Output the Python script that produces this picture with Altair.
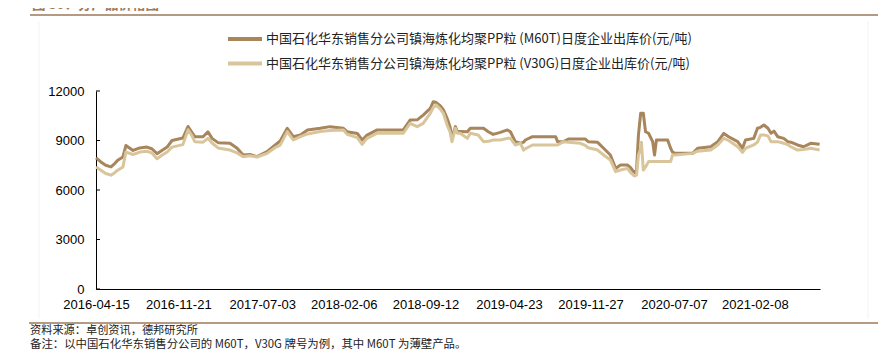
import altair as alt
import pandas as pd

# ---------------- data ----------------
dates = [
    "2016-04-15", "2016-04-28", "2016-05-11", "2016-05-25", "2016-06-04", "2016-06-12",
    "2016-06-26", "2016-07-04", "2016-07-23", "2016-08-10", "2016-08-29", "2016-09-11",
    "2016-09-25", "2016-10-08", "2016-10-22", "2016-11-04", "2016-12-03", "2016-12-17",
    "2016-12-27", "2017-01-04", "2017-01-26", "2017-02-08", "2017-02-19", "2017-03-07",
    "2017-04-08", "2017-04-27", "2017-05-13", "2017-05-31", "2017-06-19", "2017-07-16",
    "2017-08-06", "2017-08-20", "2017-09-08", "2017-09-24", "2017-10-13", "2017-11-01",
    "2017-12-05", "2017-12-31", "2018-02-05", "2018-02-15", "2018-03-14", "2018-03-27",
    "2018-04-09", "2018-05-06", "2018-07-15", "2018-08-02", "2018-08-21", "2018-09-06",
    "2018-09-25", "2018-10-03", "2018-10-11", "2018-10-22", "2018-10-30", "2018-11-09",
    "2018-11-17", "2018-11-22", "2018-12-01", "2018-12-06", "2018-12-14", "2019-01-02",
    "2019-01-10", "2019-01-31", "2019-02-14", "2019-02-27", "2019-03-12", "2019-03-31",
    "2019-04-19", "2019-04-27", "2019-05-10", "2019-05-24", "2019-06-01", "2019-06-06",
    "2019-06-25", "2019-08-26", "2019-08-31", "2019-09-16", "2019-09-29", "2019-10-31",
    "2019-11-13", "2019-11-21", "2019-12-16", "2020-01-01", "2020-01-19", "2020-02-02",
    "2020-02-15", "2020-03-05", "2020-03-13", "2020-03-23", "2020-03-29", "2020-04-03",
    "2020-04-09", "2020-04-11", "2020-04-16", "2020-04-22", "2020-04-30", "2020-05-11",
    "2020-05-16", "2020-05-21", "2020-06-20", "2020-06-28", "2020-07-03", "2020-07-11",
    "2020-08-26", "2020-09-08", "2020-10-13", "2020-11-01", "2020-11-17", "2020-11-30",
    "2020-12-24", "2021-01-06", "2021-01-14", "2021-02-05", "2021-02-15", "2021-02-23",
    "2021-03-04", "2021-03-15", "2021-03-23", "2021-03-31", "2021-04-10", "2021-04-26",
    "2021-05-07", "2021-05-15", "2021-06-02", "2021-06-18", "2021-07-07", "2021-07-31",
]

m60t = [
    7950, 7700, 7500, 7400, 7600, 7800, 8000, 8700, 8400, 8550, 8600, 8500,
    8200, 8400, 8600, 9000, 9150, 9850, 9500, 9230, 9230, 9530, 9130, 8870,
    8830, 8530, 8120, 8150, 8020, 8320, 8720, 8970, 9740, 9230, 9330, 9640,
    9740, 9840, 9740, 9530, 9430, 9030, 9330, 9640, 9640, 10240, 10250, 10540,
    10950, 11350, 11300, 11100, 10850, 10340, 9800, 9130, 9840, 9540, 9540, 9530,
    9740, 9740, 9740, 9530, 9370, 9490, 9640, 9530, 8930, 8830, 8900, 9030,
    9230, 9230, 8930, 8930, 9090, 9090, 9090, 8930, 8890, 8530, 8120, 7310,
    7510, 7510, 7350, 7050, 7200, 9330, 10650, 10650, 10650, 9530, 9440, 8930,
    8120, 9030, 9030, 8530, 8300, 8220, 8220, 8530, 8620, 8930, 9430, 9230,
    8930, 8530, 9030, 9130, 9740, 9800, 9940, 9740, 9440, 9570, 9230, 9130,
    8930, 8900, 8730, 8620, 8830, 8770,
]

v30g = [
    7400, 7200, 7000, 6900, 7050, 7200, 7400, 8300, 8150, 8300, 8350, 8250,
    7900, 8100, 8300, 8600, 8750, 9650, 9300, 8930, 8900, 9130, 8850, 8550,
    8420, 8250, 8020, 8080, 8000, 8220, 8560, 8720, 9540, 9030, 9230, 9400,
    9540, 9600, 9640, 9370, 9170, 8770, 9130, 9440, 9440, 10040, 9840, 10040,
    10650, 11000, 11150, 10900, 10650, 9940, 9500, 8930, 9740, 9440, 9440, 9130,
    9440, 9330, 8930, 8950, 9030, 9030, 9130, 9130, 8730, 8830, 8420, 8500,
    8730, 8730, 8730, 8930, 8900, 8830, 8700, 8560, 8420, 8120, 7820, 7110,
    7210, 7310, 7050, 6850, 6900, 8120, 8500, 8900, 7210, 7400, 7720, 7720,
    7720, 7720, 7720, 7720, 8120, 8120, 8220, 8350, 8420, 8730, 9130, 9000,
    8620, 8280, 8530, 8730, 8900, 9330, 9330, 9280, 8930, 8930, 8930, 8830,
    8750, 8620, 8420, 8450, 8530, 8420,
]

y_ticks = [0, 3000, 6000, 9000, 12000]
x_tick_dates = ["2016-04-15", "2016-11-21", "2017-07-03", "2018-02-06", "2018-09-12",
                "2019-04-23", "2019-11-27", "2020-07-07", "2021-02-08"]
x_domain = ["2016-04-15", "2021-08-01"]

title_text = "图 30：分产品价格图"
legend_labels = [
    "中国石化华东销售分公司镇海炼化均聚PP粒 (M60T)日度企业出库价(元/吨)",
    "中国石化华东销售分公司镇海炼化均聚PP粒 (V30G)日度企业出库价(元/吨)",
]
source_text = "资料来源：卓创资讯，德邦研究所"
note_text = "备注：以中国石化华东销售分公司的 M60T，V30G 牌号为例，其中 M60T 为薄壁产品。"

# ---------------- styling ----------------
DARK = "#A8855A"
LIGHT = "#D9C59B"
RULE = "#B49A82"
CJK = "Noto Sans CJK SC"
LATIN = "Liberation Sans"

df = pd.DataFrame({"date": pd.to_datetime(dates), "M60T": m60t, "V30G": v30g})


def dt(s):
    y, m, d = (int(p) for p in s.split("-"))
    return alt.DateTime(year=y, month=m, date=d)


x_scale = alt.Scale(domain=[dt(s) for s in x_domain])
y_scale = alt.Scale(domain=[0, 12000], nice=False)

x_axis = alt.Axis(values=[dt(s) for s in x_tick_dates], format="%Y-%m-%d", title=None,
                  ticks=False, tickSize=0, grid=False, domainColor="black", domainWidth=1,
                  labelFont=LATIN, labelFontSize=13, labelColor="black", labelPadding=9,
                  labelFlush=False, labelOverlap=False)
y_axis = alt.Axis(values=y_ticks, format="d", title=None, ticks=False, tickSize=0, grid=False,
                  domainColor="black", domainWidth=1, labelFont=LATIN, labelFontSize=13,
                  labelColor="black", labelPadding=12, labelOverlap=False)

dark_line = alt.Chart(df).mark_line(color=DARK, strokeWidth=3, strokeJoin="round").encode(
    x=alt.X("date:T", scale=x_scale, axis=x_axis),
    y=alt.Y("M60T:Q", scale=y_scale, axis=y_axis),
)
light_line = alt.Chart(df).mark_line(color=LIGHT, strokeWidth=3, strokeJoin="round").encode(
    x=alt.X("date:T", scale=x_scale, axis=x_axis),
    y=alt.Y("V30G:Q", scale=y_scale, axis=y_axis),
)

# inward y ticks (share the y scale and axis definition)
tick_df = pd.DataFrame({"v": y_ticks})
y_tick_marks = alt.Chart(tick_df).mark_rule(color="black", strokeWidth=1).encode(
    y=alt.Y("v:Q", scale=y_scale, axis=y_axis),
    x=alt.value(0), x2=alt.value(4),
)

one = pd.DataFrame({"k": [0]})


def text_layer(txt, x, y, size, color="#222222", font=CJK, weight="normal", baseline="middle"):
    return alt.Chart(one).mark_text(
        text=txt, align="left", baseline=baseline, font=font, fontSize=size,
        fontWeight=weight, color=color,
    ).encode(x=alt.value(x), y=alt.value(y))


def rule_layer(x1, x2, y, color, width, y2=None):
    enc = dict(x=alt.value(x1), x2=alt.value(x2), y=alt.value(y))
    if y2 is not None:
        enc["y2"] = alt.value(y2)
    return alt.Chart(one).mark_rule(color=color, strokeWidth=width).encode(**enc)


layers = [
    rule_layer(-57, -57, -70, "#F3F3F3", 1, y2=228),
    rule_layer(772, 772, -70, "#F3F3F3", 1, y2=228),
    text_layer(title_text, -64, -79, 13.5, color="#9C7C62", weight="bold", baseline="bottom"),
    rule_layer(-66, 782, -76, RULE, 2),
    rule_layer(132, 166, -52, DARK, 4),
    text_layer(legend_labels[0], 170, -52, 13),
    rule_layer(132, 166, -27.5, LIGHT, 4),
    text_layer(legend_labels[1], 170, -27.5, 13),
    dark_line,
    light_line,
    y_tick_marks,
    rule_layer(-67, 782, 232, RULE, 2),
    text_layer(source_text, -66, 239.5, 11.2),
    text_layer(note_text, -66, 254, 11.4),
]

chart = alt.layer(*layers).properties(
    width=724,
    height=198,
    padding={"left": 88, "top": 83, "right": 58, "bottom": 61},
    autosize=alt.AutoSizeParams(type="none"),
    background="white",
).configure_view(stroke=None)

chart.save("out.html", embed_options={"renderer": "svg", "actions": False})
